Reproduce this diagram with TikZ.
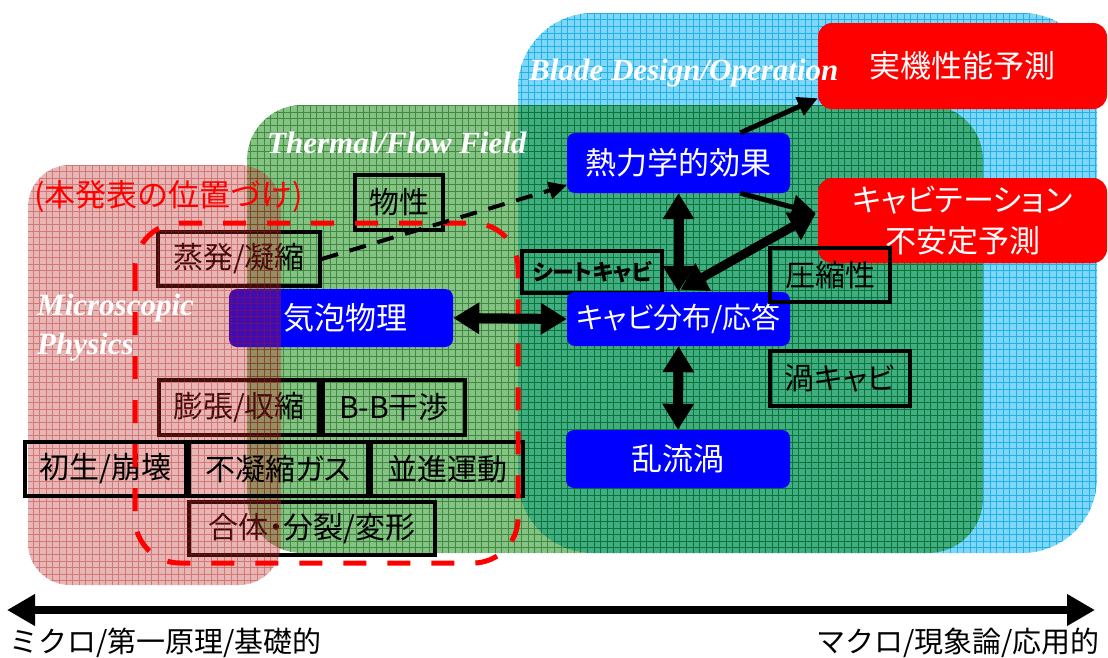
\documentclass[tikz,border=0pt]{standalone}
\usepackage{fontspec}
\setmainfont{Liberation Serif}
\newfontfamily\jp[RawFeature=+palt]{Noto Sans CJK JP}
\newfontfamily\jpw{Noto Sans CJK JP}
\usetikzlibrary{arrows.meta,calc}
\definecolor{bluefill}{RGB}{128,214,246}
\definecolor{blueline}{RGB}{30,178,232}
\definecolor{grnfill}{RGB}{0,130,0}
\definecolor{grnline}{RGB}{0,80,0}
\definecolor{redfill}{RGB}{190,40,40}
\definecolor{redline}{RGB}{170,20,20}
\definecolor{boxblue}{RGB}{0,0,255}
\definecolor{boxred}{RGB}{255,0,0}
\begin{document}
\begin{tikzpicture}[x=1pt,y=1pt,
  regionlabel/.style={text=white, font=\bfseries\itshape\fontsize{31}{37}\selectfont, inner sep=0pt, anchor=base west},
  bluebox/.style={fill=boxblue, rounded corners=8pt, text=white, font=\jp\fontsize{31}{37}\selectfont, inner sep=0pt},
  redbox/.style={fill=boxred, rounded corners=14pt, text=white, font=\jp\fontsize{31}{41}\selectfont, inner sep=0pt, align=center},
  blkbox/.style={draw=black, line width=3.5pt, font=\jp\fontsize{30}{36}\selectfont, inner sep=0pt},
  bigdbl/.style={line width=10pt, {Triangle[length=26pt,width=30pt]}-{Triangle[length=26pt,width=30pt]}},
  diagdbl/.style={line width=9pt, {Triangle[length=26pt,width=30pt]}-{Triangle[length=26pt,width=30pt]}},
  midarrow/.style={line width=5pt, -{Triangle[length=24pt,width=24pt]}},
  thinarrow/.style={line width=5pt, -{Triangle[length=20pt,width=19pt]}},
  dasharrow/.style={line width=4pt, dash pattern=on 17pt off 12pt, -{Triangle[length=18pt,width=17pt]}},
  axis/.style={line width=8pt, {Triangle[length=28pt,width=30pt]}-{Triangle[length=28pt,width=30pt]}},
  axislabel/.style={font=\jpw\fontsize{29}{34}\selectfont, inner sep=0pt}
]
\useasboundingbox (0,0) rectangle (1108,-657);

% ---- Blade Design/Operation region (blue)
\fill[bluefill, rounded corners=75pt] (518,-13) rectangle (1097,-553);
\begin{scope}
  \clip[rounded corners=75pt] (518,-13) rectangle (1097,-553);
  \draw[blueline, line width=0.8pt, step=6.6] (518,-553) grid (1097,-13);
\end{scope}

% ---- Thermal/Flow Field region (green)
\fill[grnfill, fill opacity=0.48, rounded corners=55pt] (247,-105) rectangle (983,-553);
\begin{scope}
  \clip[rounded corners=55pt] (247,-105) rectangle (983,-553);
  \draw[grnline, line width=0.9pt, opacity=0.5, step=6.6] (247,-553) grid (983,-105);
\end{scope}

\node[regionlabel] (tff) at (267,-153) {Thermal/Flow Field};

% ---- boxes lying under the micro region
\node[blkbox, minimum width=162pt, minimum height=54pt] (jouhatsu) at (239,-259) {蒸発/凝縮};
\node[bluebox, minimum width=224pt, minimum height=58pt] (kihou) at (341,-318) {\hspace*{8pt}気泡物理};
\node[blkbox, minimum width=160pt, minimum height=55pt] (bouchou) at (239,-407.5) {膨張/収縮};
\node[blkbox, minimum width=246pt, minimum height=53pt] (gattai) at (312,-528.5) {合体・分裂/変形};

% ---- Microscopic Physics region (red)
\fill[redfill, fill opacity=0.34, rounded corners=42pt] (28,-165) rectangle (281,-585);
\begin{scope}
  \clip[rounded corners=42pt] (28,-165) rectangle (281,-585);
  \draw[redline, line width=0.8pt, opacity=0.38, step=6.6] (28,-585) grid (281,-165);
\end{scope}

% ---- boxes over the micro region
\node[blkbox, minimum width=161pt, minimum height=54pt] (shosei) at (105.5,-469) {初生/崩壊};
\node[blkbox, minimum width=179pt, minimum height=54pt] (fugyou) at (278.5,-469) {不凝縮ガス};
\node[blkbox, minimum width=152pt, minimum height=54pt] (heishin) at (447,-469) {並進運動};
\node[blkbox, minimum width=142pt, minimum height=55pt] (bb) at (394,-407.5) {B-B干渉};
\node[blkbox, minimum width=88pt, minimum height=55pt] (bussei) at (399,-202.5) {物性};

\node[regionlabel] (micro1) at (37,-315) {Microscopic};
\node[regionlabel] (micro2) at (37,-354) {Physics};
\node[text=boxred, font=\jpw\fontsize{31}{36}\selectfont, inner sep=0pt, anchor=west] (ichi) at (34,-197) {(本発表の位置づけ)};

% ---- position of this talk (red dashed)
\draw[boxred, line width=5pt, dash pattern=on 23pt off 21pt, rounded corners=45pt] (135,-223) rectangle (518,-563);

% ---- macro side boxes
\node[blkbox, minimum width=140pt, minimum height=42pt, font=\jp\bfseries\fontsize{22}{26}\selectfont] (sheet) at (592,-272) {シートキャビ};
\node[blkbox, minimum width=140pt, minimum height=55pt] (uzu) at (840,-378.5) {渦キャビ};
\node[bluebox, minimum width=223pt, minimum height=60pt] (netsu) at (678.5,-163) {熱力学的効果};
\node[bluebox, minimum width=223pt, minimum height=54pt, font=\jp\fontsize{29}{35}\selectfont] (kyabi) at (678.5,-319) {キャビ分布/応答};
\node[bluebox, minimum width=224pt, minimum height=58pt] (ranryu) at (678,-459) {乱流渦};
\node[redbox, minimum width=289pt, minimum height=86pt] (jikki) at (962.5,-66) {実機性能予測};
\node[redbox, minimum width=289pt, minimum height=85pt] (kyabi2) at (962.5,-220.5) {キャビテーション\\不安定予測};
\node[blkbox, minimum width=120pt, minimum height=54pt] (asshuku) at (830,-275) {圧縮性};

\node[regionlabel] (bdo) at (529,-80) {Blade Design/Operation};

% ---- connectors
\draw[dasharrow] (jouhatsu.east) -- ($(netsu.south west)+(0,8)$);
\draw[thinarrow] ($(netsu.north)+(62,0)$) -- ($(jikki.south west)+(0,11)$);
\draw[midarrow] ($(netsu.south)+(62,0)$) -- ($(kyabi2.west)+(-2,7)$);
\draw[diagdbl] ($(kyabi2.west)+(-2,7)$) -- ($(kyabi.north)+(2,2)$);
\draw[bigdbl] (netsu.south) -- (kyabi.north);
\draw[bigdbl] (kihou.east) -- (kyabi.west);
\draw[bigdbl] (kyabi.south) -- (ranryu.north);

% ---- scale axis
\coordinate (axL) at (7,-610);
\coordinate (axR) at (1095,-610);
\draw[axis] (axL) -- (axR);
\node[axislabel, anchor=west] (micro) at (9,-643) {ミクロ/第一原理/基礎的};
\node[axislabel, anchor=east] (macro) at (1100,-643) {マクロ/現象論/応用的};
\end{tikzpicture}
\end{document}
